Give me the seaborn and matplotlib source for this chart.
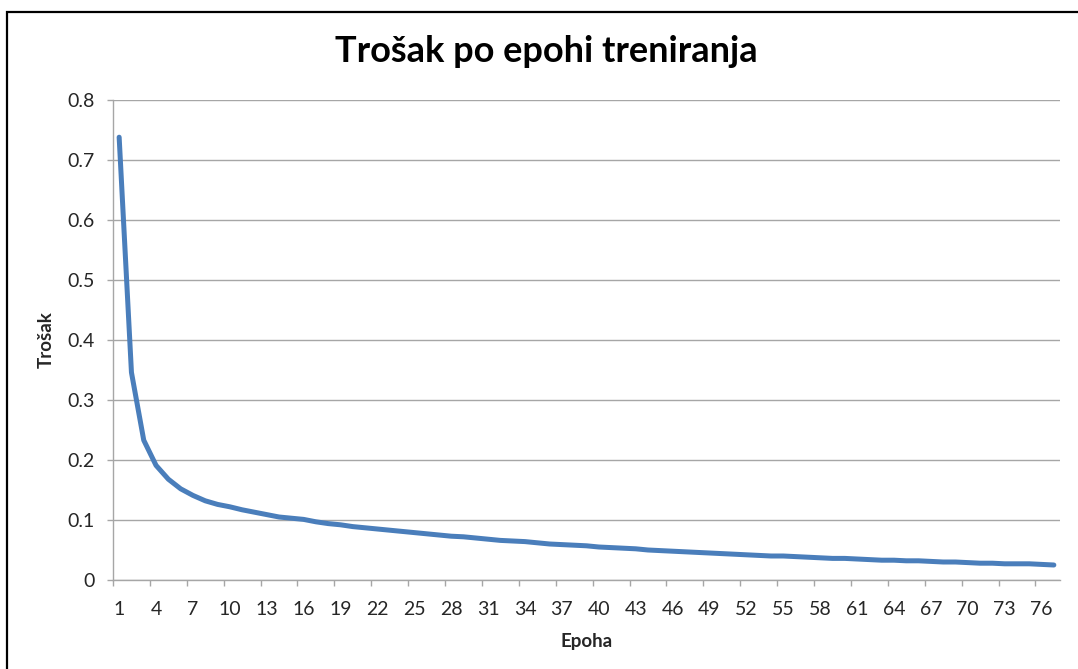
import numpy as np
import pandas as pd
import matplotlib
matplotlib.use("Agg")
import matplotlib.pyplot as plt
from matplotlib.patches import Rectangle
import seaborn as sns

# Training loss per epoch
epochs = list(range(1, 78))
loss = [
    0.738, 0.346, 0.233, 0.191, 0.168, 0.152, 0.141, 0.132, 0.126, 0.122,
    0.117, 0.113, 0.109, 0.105, 0.103, 0.101, 0.097, 0.094, 0.092, 0.089,
    0.087, 0.085, 0.083, 0.081, 0.079, 0.077, 0.075, 0.073, 0.072, 0.070,
    0.068, 0.066, 0.065, 0.064, 0.062, 0.060, 0.059, 0.058, 0.057, 0.055,
    0.054, 0.053, 0.052, 0.050, 0.049, 0.048, 0.047, 0.046, 0.045, 0.044,
    0.043, 0.042, 0.041, 0.040, 0.040, 0.039, 0.038, 0.037, 0.036, 0.036,
    0.035, 0.034, 0.033, 0.033, 0.032, 0.032, 0.031, 0.030, 0.030, 0.029,
    0.028, 0.028, 0.027, 0.027, 0.027, 0.026, 0.025,
]
x_tick_labels = [str(v) for v in range(1, 78, 3)]
y_ticks = [0.0, 0.1, 0.2, 0.3, 0.4, 0.5, 0.6, 0.7, 0.8]
y_tick_labels = ["0", "0.1", "0.2", "0.3", "0.4", "0.5", "0.6", "0.7", "0.8"]

title = "Trošak po epohi treniranja"
x_label = "Epoha"
y_label = "Trošak"

sns.set_style("white")
plt.rcParams["font.family"] = ["Lato", "DejaVu Sans"]

df = pd.DataFrame({"Epoha": epochs, "Trošak": loss})

fig = plt.figure(figsize=(10.78, 6.69), dpi=100)
ax = fig.add_axes([113 / 1078, 1 - 580 / 669, (1060 - 113) / 1078, (580 - 100) / 669])

grid_color = "#a6a6a6"
line_color = "#4a7ebb"

sns.lineplot(data=df, x="Epoha", y="Trošak", ax=ax, color=line_color,
             linewidth=3.6, solid_capstyle="round", solid_joinstyle="round",
             zorder=3)

ax.set_xlim(0.5, 77.5)
ax.set_ylim(0, 0.8)

# horizontal gridlines
ax.set_yticks(y_ticks)
ax.set_yticklabels(y_tick_labels)
ax.yaxis.grid(True, color=grid_color, linewidth=1.0)
ax.xaxis.grid(False)

# category labels centred on points, tick marks between categories
ax.set_xticks(np.arange(1, 78, 3))
ax.set_xticklabels(x_tick_labels)
ax.set_xticks(np.arange(0.5, 77, 3), minor=True)
ax.tick_params(axis="x", which="major", length=0, pad=15, labelsize=14,
               labelcolor="#262626")
ax.tick_params(axis="x", which="minor", length=4.5, width=1.0,
               color=grid_color, bottom=True)
ax.tick_params(axis="y", which="major", length=4.5, width=1.0,
               color=grid_color, pad=9, labelsize=14, labelcolor="#262626",
               left=True)

for side in ["top", "right"]:
    ax.spines[side].set_visible(False)
for side in ["left", "bottom"]:
    ax.spines[side].set_color(grid_color)
    ax.spines[side].set_linewidth(1.0)

ax.set_xlabel(x_label, fontsize=13.5, fontweight="bold", labelpad=11)
ax.set_ylabel(y_label, fontsize=13.5, fontweight="bold", labelpad=9)

fig.text(546 / 1078, 1 - 52 / 669, title, ha="center", va="center",
         fontsize=26, fontweight="bold", color="black")

# outer chart border
fig.patches.append(Rectangle((7 / 1078, -0.2), 1.1, 1.2 - 12 / 669,
                             transform=fig.transFigure, fill=False,
                             edgecolor="black", linewidth=1.6, zorder=0))

fig.savefig("out.png", dpi=100)
